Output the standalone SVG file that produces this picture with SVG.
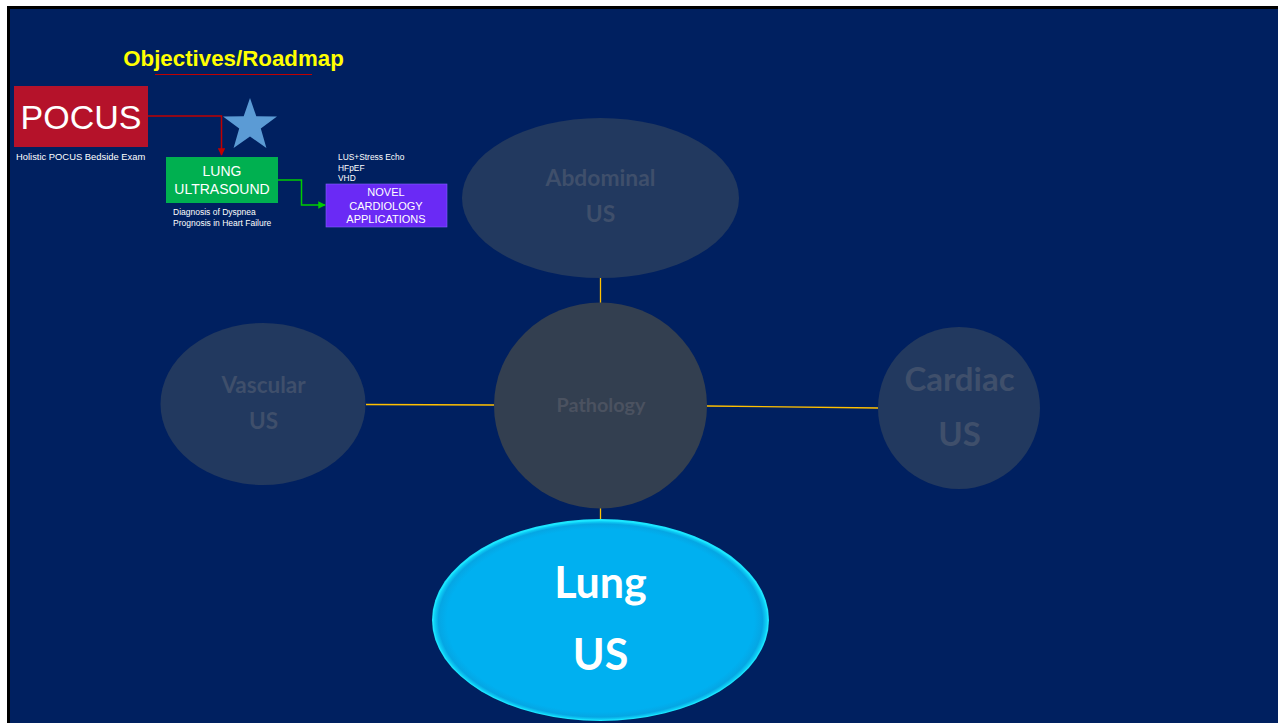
<svg xmlns="http://www.w3.org/2000/svg" width="1278" height="723" viewBox="0 0 1278 723">
  <defs>
    <style>
      .sans { font-family: "Liberation Sans", Arial, sans-serif; }
      .cal { font-family: Lato, "Open Sans", "Liberation Sans", sans-serif; font-weight: bold; }
      .small { font-size: 8.5px; fill: #FFFFFF; }
      .ghost { fill: #22395F; }
      .ghostText { fill: #3F4F6B; text-anchor: middle; }
      .link { stroke: #FFC000; stroke-width: 1.3; fill: none; }
    </style>
    <marker id="arrowRed" viewBox="0 0 10 10" refX="9" refY="5" markerWidth="5" markerHeight="5" orient="auto">
      <path d="M0,0 L10,5 L0,10 z" fill="#C00000"/>
    </marker>
    <marker id="arrowGreen" viewBox="0 0 10 10" refX="9" refY="5" markerWidth="5" markerHeight="5" orient="auto">
      <path d="M0,0 L10,5 L0,10 z" fill="#00CC00"/>
    </marker>
    <radialGradient id="lungFill" cx="0.5" cy="0.5" r="0.5">
      <stop offset="0" stop-color="#00B0F0"/>
      <stop offset="0.92" stop-color="#00B0F0"/>
      <stop offset="0.97" stop-color="#05A6E4"/>
      <stop offset="1" stop-color="#10D8FA"/>
    </radialGradient>
    <filter id="glow" x="-10%" y="-10%" width="120%" height="120%">
      <feGaussianBlur stdDeviation="0.7"/>
    </filter>
  </defs>

  <!-- slide frame -->
  <rect x="0" y="0" width="1278" height="723" fill="#FFFFFF"/>
  <rect x="7" y="6" width="1271" height="717" fill="#000000"/>
  <rect x="10" y="9" width="1268" height="714" fill="#002060"/>

  <!-- roadmap heading -->
  <g id="title">
    <text x="233.5" y="66" class="sans" font-size="22.3" font-weight="bold" fill="#FFFF00" text-anchor="middle">Objectives/Roadmap</text>
    <line x1="155" y1="74.5" x2="312" y2="74.5" stroke="#C00000" stroke-width="1"/>
  </g>

  <!-- roadmap connectors -->
  <g id="roadmap-connectors" fill="none">
    <polyline points="148,116 221.5,116 221.5,155" stroke="#C00000" stroke-width="1.5" marker-end="url(#arrowRed)"/>
    <polyline points="278,180 301.5,180 301.5,205 325,205" stroke="#00CC00" stroke-width="1.5" marker-end="url(#arrowGreen)"/>
  </g>

  <g id="pocus">
    <rect x="14" y="86" width="134" height="61" fill="#B5122A"/>
    <text x="81" y="129" class="sans" font-size="34" fill="#FFFFFF" text-anchor="middle">POCUS</text>
    <text x="16" y="160" class="sans" font-size="9.4" fill="#FFFFFF">Holistic POCUS Bedside Exam</text>
  </g>

  <g id="star">
    <polygon points="250,98 256.3,116.3 277,116.6 260.8,128.6 266.4,148 250,136.5 233.6,148 239.2,128.6 223,116.6 243.7,116.3" fill="#5B9BD5"/>
  </g>

  <g id="lung-ultrasound">
    <rect x="166" y="157" width="112" height="46" fill="#00B050"/>
    <text x="222" y="176" class="sans" font-size="14" fill="#FFFFFF" text-anchor="middle">LUNG</text>
    <text x="222" y="194" class="sans" font-size="14" fill="#FFFFFF" text-anchor="middle">ULTRASOUND</text>
    <text x="173" y="215" class="sans small">Diagnosis of Dyspnea</text>
    <text x="173" y="226" class="sans small">Prognosis in Heart Failure</text>
  </g>

  <g id="novel-applications">
    <text x="338" y="160" class="sans" font-size="8.4" fill="#FFFFFF">LUS+Stress Echo</text>
    <text x="338" y="170.5" class="sans" font-size="8.4" fill="#FFFFFF">HFpEF</text>
    <text x="338" y="181" class="sans" font-size="8.4" fill="#FFFFFF">VHD</text>
    <rect x="326" y="184" width="121" height="43" fill="#6A2AF5" stroke="#8060FF" stroke-width="0.6"/>
    <text x="386" y="196" class="sans" font-size="11" fill="#FFFFFF" text-anchor="middle">NOVEL</text>
    <text x="386" y="209.5" class="sans" font-size="11" fill="#FFFFFF" text-anchor="middle">CARDIOLOGY</text>
    <text x="386" y="223" class="sans" font-size="11" fill="#FFFFFF" text-anchor="middle">APPLICATIONS</text>
  </g>

  <!-- hub-and-spoke connectors -->
  <g id="connectors">
    <line class="link" x1="600.5" y1="278" x2="600.5" y2="303"/>
    <line class="link" x1="366" y1="404.5" x2="494" y2="405"/>
    <line class="link" x1="707" y1="406" x2="878" y2="408"/>
    <line class="link" x1="600.5" y1="507" x2="600.5" y2="520"/>
  </g>

  <g id="abdominal-us">
    <ellipse cx="600.5" cy="198" rx="138.5" ry="80" class="ghost"/>
    <text x="600.5" y="186" class="cal ghostText" font-size="22.8">Abdominal</text>
    <text x="600.5" y="222" class="cal ghostText" font-size="22.8">US</text>
  </g>

  <g id="vascular-us">
    <ellipse cx="263" cy="404" rx="102.5" ry="81" class="ghost"/>
    <text x="263.5" y="393" class="cal ghostText" font-size="22.5">Vascular</text>
    <text x="263.5" y="429" class="cal ghostText" font-size="22.5">US</text>
  </g>

  <g id="pathology">
    <ellipse cx="600.5" cy="405.5" rx="106.5" ry="103" fill="#333F50"/>
    <text x="601" y="412" class="cal" font-size="19.8" fill="#4B5260" text-anchor="middle">Pathology</text>
  </g>

  <g id="cardiac-us">
    <circle cx="959" cy="408" r="81" class="ghost"/>
    <text x="959.5" y="391" class="cal ghostText" font-size="33">Cardiac</text>
    <text x="959.5" y="446" class="cal ghostText" font-size="33">US</text>
  </g>

  <g id="lung-us">
    <ellipse cx="600.5" cy="620" rx="168.5" ry="101" fill="#1AE6FF" filter="url(#glow)"/>
    <ellipse cx="600.5" cy="620.5" rx="167" ry="99.5" fill="url(#lungFill)"/>
    <text x="600.5" y="598" class="cal" font-size="43" fill="#FFFFFF" text-anchor="middle">Lung</text>
    <text x="600.5" y="670" class="cal" font-size="43" fill="#FFFFFF" text-anchor="middle">US</text>
  </g>
</svg>
